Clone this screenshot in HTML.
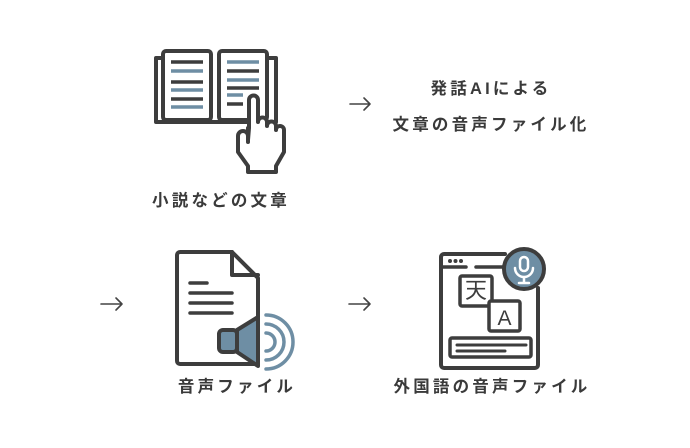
<!DOCTYPE html>
<html><head><meta charset="utf-8"><style>
body{margin:0;width:690px;height:448px;background:#fff;overflow:hidden;position:relative;font-family:"Liberation Sans","Noto Sans CJK JP",sans-serif;color:#333;}
.t{position:absolute;font-size:16.5px;font-weight:bold;letter-spacing:3.2px;white-space:nowrap;transform:translateX(-50%);line-height:1;color:#3a3a3a}
svg{position:absolute;left:0;top:0}
</style></head><body>
<svg width="690" height="448" fill="none" stroke-linecap="round" stroke-linejoin="round">
<g stroke="#3d3d3d" stroke-width="4">
<path d="M163 58 H156 V122 H276 V58 H268"/>
<rect x="163" y="51" width="48" height="69" rx="3" fill="#fff"/>
<rect x="219" y="51" width="48" height="69" rx="3" fill="#fff"/>
</g>
<g stroke-width="3.5" stroke-linecap="butt">
<path d="M171 62H203M171 82H203M171 99H203" stroke="#3d3d3d"/>
<path d="M171 71H203M171 90H203M171 107H203" stroke="#6e8ea4"/>
<path d="M227 62H259M227 80H259M227 95H243" stroke="#6e8ea4"/>
<path d="M227 71H259M227 88H259M227 104H243" stroke="#3d3d3d"/>
</g>
<path d="M249 128 V100 a4.5 4.5 0 0 1 9 0 V122 a4.5 4.5 0 0 1 9 0 V126 a4.5 4.5 0 0 1 9 0 V130 a4 4 0 0 1 8 0 V152 L276 166 V172 H248 V166 L238 152 V136 a5 5 0 0 1 10 0 V140 Z" fill="#fff" stroke="#3d3d3d" stroke-width="4"/>
<path d="M248 128V142" stroke="#3d3d3d" stroke-width="4"/>
<path d="M180 252 H232 L258 278 V364 H180 a3 3 0 0 1 -3 -3 V255 a3 3 0 0 1 3 -3Z" stroke="#3d3d3d" stroke-width="4" fill="#fff"/>
<path d="M232 252 V275 H258" stroke="#3d3d3d" stroke-width="4"/>
<path d="M190 283H207M190 293H232M190 303H232M190 313H232" stroke="#3d3d3d" stroke-width="3.5"/>
<rect x="219" y="330" width="18" height="22" rx="4" fill="#6e8ea4" stroke="#3d3d3d" stroke-width="4"/>
<path d="M237 330 L258 317 V366 L237 352Z" fill="#6e8ea4" stroke="#3d3d3d" stroke-width="4"/>
<g stroke="#6e8ea4" stroke-width="3.5">
<path d="M266 333 a9 9 0 0 1 0 18"/>
<path d="M266 324 a18 18 0 0 1 0 36"/>
<path d="M266 315 a27 27 0 0 1 0 54"/>
</g>
<path d="M505 254 H444 a3 3 0 0 0 -3 3 V365 a3 3 0 0 0 3 3 H535 a3 3 0 0 0 3 -3 V288" stroke="#3d3d3d" stroke-width="4"/>
<path d="M476 267H503M443 267H466" stroke="#3d3d3d" stroke-width="3.5"/>
<g fill="#3d3d3d"><circle cx="450" cy="261" r="2"/><circle cx="455.5" cy="261" r="2"/><circle cx="461" cy="261" r="2"/></g>
<circle cx="524" cy="269" r="20" fill="#6e8ea4" stroke="#3d3d3d" stroke-width="4"/>
<rect x="520" y="257" width="8" height="14" rx="4" stroke="#fff" stroke-width="2.5"/>
<path d="M515 268 a9 9 0 0 0 18 0 M524 277V282 M519 283H529" stroke="#fff" stroke-width="2.5"/>
<rect x="460" y="276" width="32" height="30" rx="2" stroke="#3d3d3d" stroke-width="3.5" fill="#fff"/>
<rect x="489" y="301" width="31" height="30" rx="2" stroke="#3d3d3d" stroke-width="3.5" fill="#fff"/>
<rect x="450" y="338" width="81" height="19" rx="2" stroke="#3d3d3d" stroke-width="3.5"/>
<path d="M457 345H526M457 351H505" stroke="#3d3d3d" stroke-width="3"/>
<g stroke="#444" stroke-width="1.6">
<path d="M350 104H370M364 98L370 104L364 110"/>
<path d="M101 304H122M116 298L122 304L116 310"/>
<path d="M349 304H370M364 298L370 304L364 310"/>
</g>
<text x="476" y="298" font-family="Noto Sans CJK JP,sans-serif" font-size="22" fill="#3d3d3d" text-anchor="middle">天</text>
<text x="504.5" y="325" font-family="Liberation Sans,sans-serif" font-size="21" fill="#3d3d3d" text-anchor="middle">A</text>
</svg>
<div class="t" style="left:491px;top:81px">発話AIによる</div>
<div class="t" style="left:491px;top:117px">文章の音声ファイル化</div>
<div class="t" style="left:221px;top:193px">小説などの文章</div>
<div class="t" style="left:237px;top:379px">音声ファイル</div>
<div class="t" style="left:492px;top:379px">外国語の音声ファイル</div>
</body></html>
